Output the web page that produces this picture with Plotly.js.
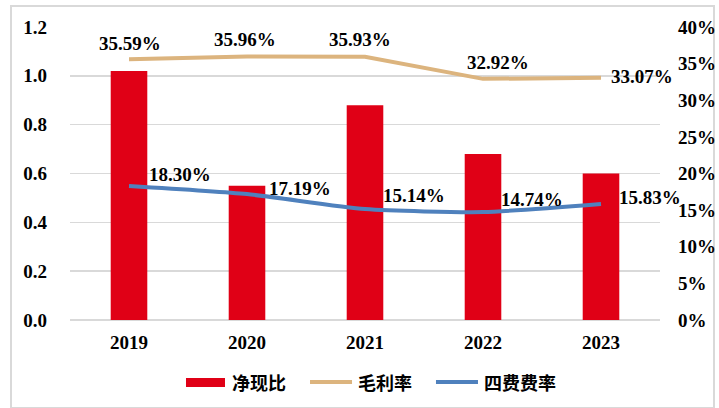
<!DOCTYPE html>
<html><head><meta charset="utf-8">
<script src="https://cdn.plot.ly/plotly-3.0.1.min.js"></script>
<style>
html,body{margin:0;padding:0;background:#fff;}
#frame{position:absolute;left:10px;top:5px;width:705px;height:404px;border:2px solid #d9d9d9;box-sizing:border-box;}
#chart{position:absolute;left:0;top:0;width:719px;height:408px;}
</style></head>
<body><div id="frame"></div><div id="chart"></div>
<script>
const years = ['2019','2020','2021','2022','2023'];
const netCashRatio = [1.02, 0.55, 0.88, 0.68, 0.60];
const grossMargin = [35.59, 35.96, 35.93, 32.92, 33.07];
const expenseRate = [18.30, 17.19, 15.14, 14.74, 15.83];
const names = ['净现比','毛利率','四费费率'];
const colors = ['#e00016','#dcb47e','#4f81bd'];

const serifFam = '"Liberation Serif", "Times New Roman", serif';
const cjkFam = '"Noto Sans CJK SC", sans-serif';

const traces = [
  {type:'bar', x:years, y:netCashRatio, name:names[0], marker:{color:colors[0]}, yaxis:'y', showlegend:false},
  {type:'scatter', mode:'lines', x:years, y:grossMargin, name:names[1], yaxis:'y2', showlegend:false,
   line:{color:colors[1], width:4}},
  {type:'scatter', mode:'lines', x:years, y:expenseRate, name:names[2], yaxis:'y2', showlegend:false,
   line:{color:colors[2], width:4, shape:'spline', smoothing:0.6}}
];

const labelFont = {family:serifFam, size:19, color:'#000000', weight:'bold'};
const gmShift = [[1,16],[-2,17],[-5,17],[15,16],[41,1]];
const erShift = [[51,11],[53,6],[49,14],[49,13],[49,7]];
const annotations = [];
years.forEach((yr,i)=>{
  annotations.push({x:i, xref:'x', y:grossMargin[i], yref:'y2', text:grossMargin[i].toFixed(2)+'%', showarrow:false,
    xshift:gmShift[i][0], yshift:gmShift[i][1], font:labelFont});
  annotations.push({x:i, xref:'x', y:expenseRate[i], yref:'y2', text:expenseRate[i].toFixed(2)+'%', showarrow:false,
    xshift:erShift[i][0], yshift:erShift[i][1], font:labelFont});
});

// custom legend (paper coordinates)
const legY = -0.2116;
const legText = [0.2712, 0.4847, 0.6983];
names.forEach((n,i)=>{
  annotations.push({x:legText[i], xref:'paper', y:legY, yref:'paper', xanchor:'left', yanchor:'middle',
    text:n, showarrow:false, font:{family:cjkFam, size:18, color:'#000000', weight:'bold'}});
});
const shapes = [
  {type:'rect', xref:'paper', yref:'paper', x0:0.1966, x1:0.2627, y0:-0.198, y1:-0.2287,
   fillcolor:colors[0], line:{width:0}},
  {type:'line', xref:'paper', yref:'paper', x0:0.4068, x1:0.4780, y0:legY, y1:legY,
   line:{color:colors[1], width:4}},
  {type:'line', xref:'paper', yref:'paper', x0:0.6203, x1:0.6915, y0:legY, y1:legY,
   line:{color:colors[2], width:4}}
];

const tickFont = {family:serifFam, size:19, color:'#000000', weight:'bold'};
const layout = {
  width:719, height:408,
  font:{family:serifFam},
  margin:{l:70, r:59, t:27, b:88, autoexpand:false},
  paper_bgcolor:'rgba(0,0,0,0)', plot_bgcolor:'rgba(0,0,0,0)',
  bargap:0.69,
  showlegend:false,
  xaxis:{type:'category', range:[-0.5,4.5], showgrid:false, showline:false, zeroline:false, ticks:'',
    tickfont:tickFont, ticklabelstandoff:9},
  yaxis:{range:[0,1.2], dtick:0.2, tickformat:'.1f', showgrid:true, gridcolor:'#d9d9d9', gridwidth:1.5,
    zeroline:true, zerolinecolor:'#d9d9d9', zerolinewidth:1.5, showline:false, ticks:'',
    tickfont:tickFont, ticklabelstandoff:22},
  yaxis2:{range:[0,40], dtick:5, overlaying:'y', side:'right', showgrid:false, zeroline:false, showline:false, ticks:'',
    ticksuffix:'%', tickfont:tickFont, ticklabelstandoff:17},
  annotations:annotations,
  shapes:shapes
};
Plotly.newPlot('chart', traces, layout, {displayModeBar:false, staticPlot:true});
</script></body></html>
